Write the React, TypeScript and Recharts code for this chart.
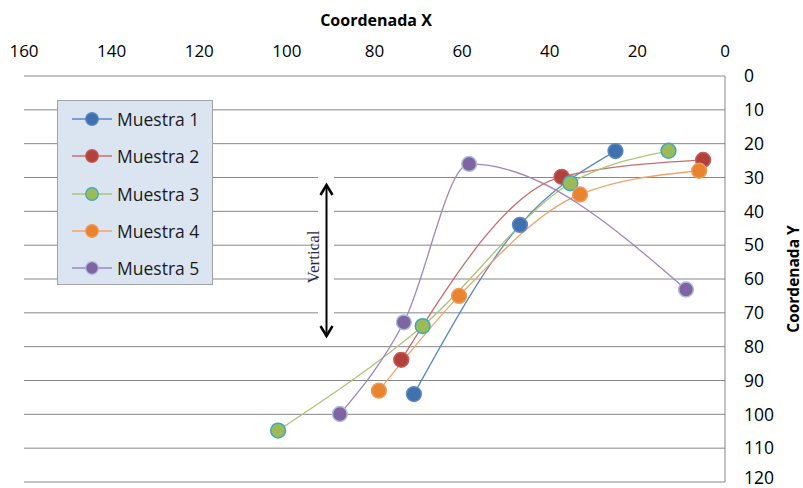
import { ComposedChart, Line, XAxis, YAxis, CartesianGrid, Legend } from "recharts";

const FONT = '"Open Sans", sans-serif';

const X_TICKS = [0, 20, 40, 60, 80, 100, 120, 140, 160];
const Y_TICKS = [0, 10, 20, 30, 40, 50, 60, 70, 80, 90, 100, 110, 120];

// valores (x, y)
const MUESTRA_1 = [
  { x: 25.0, y: 22.2 },
  { x: 46.8, y: 44.0 },
  { x: 71.0, y: 94.0 },
];
const MUESTRA_2 = [
  { x: 5.0, y: 24.8 },
  { x: 37.3, y: 29.8 },
  { x: 73.9, y: 83.9 },
];
const MUESTRA_3 = [
  { x: 12.9, y: 22.1 },
  { x: 35.3, y: 31.7 },
  { x: 69.0, y: 73.9 },
  { x: 102.0, y: 104.8 },
];
const MUESTRA_4 = [
  { x: 5.9, y: 28.0 },
  { x: 33.1, y: 35.0 },
  { x: 60.7, y: 65.0 },
  { x: 79.0, y: 93.0 },
];
const MUESTRA_5 = [
  { x: 8.9, y: 63.1 },
  { x: 58.4, y: 26.0 },
  { x: 73.3, y: 72.8 },
  { x: 87.9, y: 99.9 },
];

const SERIES = [
  { name: "Muestra 1", data: MUESTRA_1, line: "#5b87c2", fill: "#4171ad", border: "#5a88c3" },
  { name: "Muestra 2", data: MUESTRA_2, line: "#c76f6c", fill: "#b2413e", border: "#c65a57" },
  { name: "Muestra 3", data: MUESTRA_3, line: "#a9c679", fill: "#9bbb59", border: "#3fa6c2" },
  { name: "Muestra 4", data: MUESTRA_4, line: "#f3a269", fill: "#e8842f", border: "#f09a55" },
  { name: "Muestra 5", data: MUESTRA_5, line: "#9d86bd", fill: "#8064a2", border: "#a9bde0" },
];

function LegendBox() {
  return (
    <div
      style={{
        width: 156,
        height: 185,
        background: "#dbe5f1",
        border: "1px solid #a3a3a3",
        boxSizing: "border-box",
        fontFamily: FONT,
        fontSize: 17.5,
        color: "#1a1a1a",
      }}
    >
      {SERIES.map((s, i) => (
        <div
          key={s.name}
          style={{
            position: "absolute",
            left: 0,
            top: 19 + i * 37.25 - 12,
            height: 24,
            display: "flex",
            alignItems: "center",
          }}
        >
          <svg width={58} height={24} style={{ display: "block" }}>
            <line x1={15} x2={55} y1={12} y2={12} stroke={s.line} strokeWidth={1.5} />
            <circle cx={35} cy={12} r={6.3} fill={s.fill} stroke={s.border} strokeWidth={1.2} />
          </svg>
          <span style={{ marginLeft: 2, lineHeight: "24px" }}>{s.name}</span>
        </div>
      ))}
    </div>
  );
}

export default function App() {
  return (
    <div style={{ position: "relative", width: 803, height: 488, background: "#fff" }}>
      <style>{`body{margin:0}`}</style>
      <ComposedChart width={803} height={488} margin={{ top: 31, right: 0, left: 24, bottom: 6 }}>
        <CartesianGrid vertical={false} stroke="#868686" />
        <XAxis
          type="number"
          dataKey="x"
          orientation="top"
          reversed
          domain={[0, 160]}
          ticks={X_TICKS}
          height={45}
          axisLine={false}
          tickLine={false}
          tickMargin={13}
          tick={{ fill: "#000", fontSize: 17, fontFamily: FONT }}
          label={{
            content: () => (
              <text x={376} y={26} textAnchor="middle" fontFamily={FONT} fontWeight="bold" fontSize={16} fill="#000">
                Coordenada X
              </text>
            ),
          }}
        />
        <YAxis
          type="number"
          orientation="right"
          reversed
          domain={[0, 120]}
          ticks={Y_TICKS}
          width={78}
          axisLine={{ stroke: "#868686" }}
          tickLine={false}
          tickMargin={13}
          tick={{ fill: "#000", fontSize: 17.5, fontFamily: FONT }}
          label={{
            content: () => (
              <text
                x={793}
                y={279}
                textAnchor="middle"
                dominantBaseline="central"
                transform="rotate(-90, 793, 279)"
                fontFamily={FONT}
                fontWeight="bold"
                fontSize={15.5}
                fill="#000"
              >
                Coordenada Y
              </text>
            ),
          }}
        />
        <Legend
          layout="vertical"
          align="center"
          verticalAlign="middle"
          wrapperStyle={{ left: 57, top: 100, width: 156, height: 185 }}
          content={() => <LegendBox />}
        />
        {SERIES.map((s) => (
          <Line
            key={s.name}
            name={s.name}
            data={s.data}
            dataKey="y"
            type="monotone"
            stroke={s.line}
            strokeWidth={1.3}
            dot={{ r: 7.4, fill: s.fill, stroke: s.border, strokeWidth: 1.5 }}
            activeDot={false}
            isAnimationActive={false}
          />
        ))}
      </ComposedChart>
      <svg width={803} height={488} style={{ position: "absolute", left: 0, top: 0, pointerEvents: "none" }}>
        <rect x={318} y={172} width={16} height={168} fill="#fff" />
        <line x1={326.5} x2={326.5} y1={186} y2={335} stroke="#000" strokeWidth={2} />
        <polyline points="320.5,195 326.5,185 332.5,195" fill="none" stroke="#000" strokeWidth={2.5} />
        <polyline points="320.5,326 326.5,336 332.5,326" fill="none" stroke="#000" strokeWidth={2.5} />
        <text
          x={313}
          y={257}
          textAnchor="middle"
          dominantBaseline="central"
          transform="rotate(-90, 313, 257)"
          fontFamily='"Liberation Serif", serif'
          fontSize={17}
          fill="#1f2a44"
        >
          Vertical
        </text>
      </svg>
    </div>
  );
}
